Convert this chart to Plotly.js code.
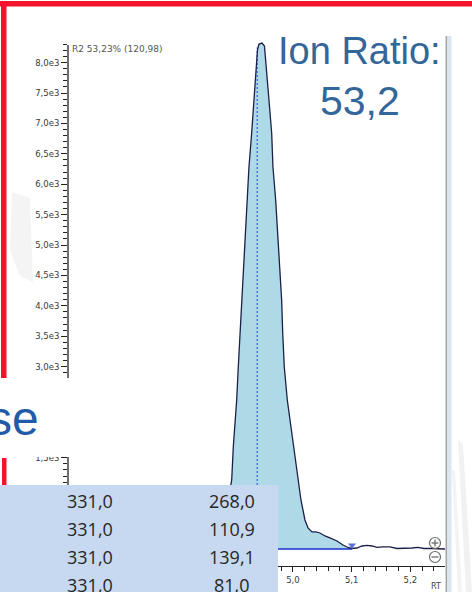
<!DOCTYPE html>
<html><head><meta charset="utf-8">
<script src="https://cdn.plot.ly/plotly-3.0.1.min.js"></script>
<style>html,body{margin:0;padding:0;background:#fff;overflow:hidden}#chart{width:472px;height:592px}</style>
</head><body><div id="chart"></div>
<script>
// ---- data ----
const rtTime = [4.8245,4.8671,4.8825,4.8956,4.8983,4.9029,4.9041,4.9068,4.9097,4.9126,4.9153,4.9182,4.9211,4.9250,4.9296,4.9336,4.9370,4.9395,4.9421,4.9472,4.9514,4.9540,4.9591,4.9637,4.9659,4.9705,4.9739,4.9767,4.9807,4.9825,4.9852,4.9903,4.9983,5.0068,5.0136,5.0204,5.0256,5.0324,5.0392,5.0460,5.0545,5.0630,5.0750,5.0852,5.0937,5.1005,5.1090,5.1175,5.1261,5.1346,5.1431,5.1533,5.1652,5.1772,5.1908,5.2027,5.2129,5.2232,5.2368,5.2590];
const intensity = [15,80,400,1135,1678,2237,2451,2993,3553,4095,4638,5197,5740,6283,6842,7385,7928,8207,8306,8322,8273,7928,7385,6842,6283,5740,5197,4638,4095,3553,2993,2451,1908,1349,806,477,345,280,280,263,214,181,132,66,25,8,16,49,58,49,25,33,33,8,8,16,25,8,8,0];
const peakApexRt = 4.939;
const peakApexTop = 8250;
const peakEndRt = 5.1005;
const peakEndMark = 60;
const yTickVals = [1500,3000,3500,4000,4500,5000,5500,6000,6500,7000,7500,8000];
const yTickText = ["1,5e3","3,0e3","3,5e3","4,0e3","4,5e3","5,0e3","5,5e3","6,0e3","6,5e3","7,0e3","7,5e3","8,0e3"];
const xTickVals = [5.0,5.1,5.2];
const xTickText = ["5,0","5,1","5,2"];
const peakLabel = "R2 53,23% (120,98)";
const ratioTitle = "Ion Ratio:";
const ratioValue = "53,2";
const slideWord = "se";
const tableMass = ["331,0","331,0","331,0","331,0"];
const tableArea = ["268,0","110,9","139,1","81,0"];
const xAxisName = "RT";

// ---- layout geometry (pixels) ----
const L=68, R=445, T=42, B=566, W=R-L, H=B-T;
const px = v => (v-L)/W;
const py = v => (B-v)/H;
const pathOf = pts => pts.map((p,i)=>(i?'L':'M')+px(p[0])+','+py(p[1])).join(' ')+' Z';

const fillX = [], fillY = [];
rtTime.forEach((t,i)=>{ if(t<=peakEndRt){ fillX.push(t); fillY.push(intensity[i]); } });

const traces = [
  {x:fillX, y:fillY, type:'scatter', mode:'lines', fill:'tozeroy', fillcolor:'#aed9e6', line:{width:0}, hoverinfo:'skip'},
  {x:[rtTime[0], peakEndRt], y:[0,0], type:'scatter', mode:'lines', line:{color:'#1a2fd0', width:1.3}},
  {x:[peakApexRt, peakApexRt], y:[0, peakApexTop], type:'scatter', mode:'lines', line:{color:'#2a44d0', width:1, dash:'2px,2px'}},
  {x:rtTime, y:intensity, type:'scatter', mode:'lines', line:{color:'#1c1f48', width:1.3}},
  {x:[peakEndRt], y:[peakEndMark], type:'scatter', mode:'markers', marker:{symbol:'triangle-down', size:7, color:'#5b6fe0'}}
];

const tickFont = {family:'DejaVu Sans', size:8.5, color:'#3a3a3a'};
const shapes = [
  // faint background smudges of the slide
  {type:'path', xref:'paper', yref:'paper', path:pathOf([[12,192],[30,198],[33,282],[20,276],[10,250]]), fillcolor:'#f4f4f4', line:{width:0}, layer:'below'},
  {type:'path', xref:'paper', yref:'paper', path:pathOf([[458,440],[463,445],[472,592],[466,592]]), fillcolor:'#f1f1f1', line:{width:0}, layer:'above'},
  {type:'path', xref:'paper', yref:'paper', path:pathOf([[452,470],[455,470],[462,592],[458,592]]), fillcolor:'#f3f3f3', line:{width:0}, layer:'above'},
  // y axis line
  {type:'line', xref:'paper', yref:'paper', x0:0, x1:0, y0:py(45), y1:py(566), line:{color:'#222', width:1.3}, layer:'above'},
  // white block behind big word
  {type:'rect', xref:'paper', yref:'paper', x0:px(-2), x1:px(226), y0:py(378), y1:py(457), fillcolor:'#ffffff', line:{width:0}, layer:'above'},
  // red frame
  {type:'rect', xref:'paper', yref:'paper', x0:px(0), x1:px(474), y0:py(1), y1:py(6.5), fillcolor:'#f3142c', line:{width:0}, layer:'above'},
  {type:'rect', xref:'paper', yref:'paper', x0:px(1), x1:px(6.5), y0:py(1), y1:py(378), fillcolor:'#f3142c', line:{width:0}, layer:'above'},
  {type:'rect', xref:'paper', yref:'paper', x0:px(2), x1:px(6.5), y0:py(458), y1:py(486), fillcolor:'#f3142c', line:{width:0}, layer:'above'},
  // table background
  {type:'rect', xref:'paper', yref:'paper', x0:px(-2), x1:px(278), y0:py(485), y1:py(594), fillcolor:'#c6d9f1', line:{width:0}, layer:'above'},
  // right border of chart window
  {type:'rect', xref:'paper', yref:'paper', x0:px(447), x1:px(451.5), y0:py(36), y1:py(594), fillcolor:'#dce6f2', line:{width:0}, layer:'above'},
  {type:'line', xref:'paper', yref:'paper', x0:px(446.3), x1:px(446.3), y0:py(36), y1:py(594), line:{color:'#a4a4a4', width:1.5}, layer:'above'},
  // zoom icons
  {type:'circle', xref:'paper', yref:'paper', x0:px(429.5), x1:px(440.5), y0:py(537.5), y1:py(548.5), line:{color:'#6a6a6a', width:1.2}, fillcolor:'rgba(255,255,255,0.6)', layer:'above'},
  {type:'line', xref:'paper', yref:'paper', x0:px(431.5), x1:px(438.5), y0:py(543), y1:py(543), line:{color:'#6a6a6a', width:1.3}, layer:'above'},
  {type:'line', xref:'paper', yref:'paper', x0:px(435), x1:px(435), y0:py(539.5), y1:py(546.5), line:{color:'#6a6a6a', width:1.3}, layer:'above'},
  {type:'circle', xref:'paper', yref:'paper', x0:px(429.5), x1:px(440.5), y0:py(551.5), y1:py(562.5), line:{color:'#6a6a6a', width:1.2}, fillcolor:'rgba(255,255,255,0.6)', layer:'above'},
  {type:'line', xref:'paper', yref:'paper', x0:px(431.5), x1:px(438.5), y0:py(557), y1:py(557), line:{color:'#6a6a6a', width:1.3}, layer:'above'}
];

const ann = (text, x, y, font, xa, ya) => ({text, xref:'paper', yref:'paper', x:px(x), y:py(y), showarrow:false, xanchor:xa||'center', yanchor:ya||'middle', font});
const tableFont = {family:'Open Sans', size:18, color:'#262626'};
const annotations = [
  ann(peakLabel, 70, 49, {family:'DejaVu Sans', size:9, color:'#555'}, 'left'),
  ann(ratioTitle, 359, 51, {family:'Liberation Sans', size:38, color:'#336699'}),
  ann(ratioValue, 360, 101, {family:'Liberation Sans', size:41, color:'#336699'}),
  ann(slideWord, 41, 418, {family:'Liberation Sans', size:48, color:'#1f5ba8'}, 'right'),
  ann(xAxisName, 436, 593, {family:'DejaVu Sans', size:8, color:'#444'}, 'center', 'bottom')
];
tableMass.forEach((m,i)=>{
  annotations.push(ann(m, 90, 501+28*i, tableFont));
  annotations.push(ann(tableArea[i], 232, 501+28*i, tableFont));
});

const layout = {
  width:472, height:592,
  margin:{l:L, r:472-R, t:T, b:592-B, pad:0},
  paper_bgcolor:'#ffffff', plot_bgcolor:'rgba(0,0,0,0)',
  showlegend:false,
  xaxis:{range:[4.6167,5.259], showgrid:false, zeroline:false, showline:true, linecolor:'#222', linewidth:1.4,
    tickmode:'array', tickvals:xTickVals, ticktext:xTickText, ticks:'outside', ticklen:5, tickcolor:'#222', tickwidth:1,
    minor:{tickmode:'linear', tick0:4.6, dtick:0.02, ticks:'outside', ticklen:4, tickcolor:'#222', tickwidth:1},
    tickfont:tickFont, fixedrange:true},
  yaxis:{range:[-280,8339], showgrid:false, zeroline:false, showline:false,
    tickmode:'array', tickvals:yTickVals, ticktext:yTickText, ticks:'outside', ticklen:6, tickcolor:'#222', tickwidth:1,
    minor:{tickmode:'linear', tick0:0, dtick:100, ticks:'outside', ticklen:4, tickcolor:'#222', tickwidth:1},
    tickfont:tickFont, fixedrange:true},
  shapes, annotations
};
Plotly.newPlot('chart', traces, layout, {staticPlot:true, displayModeBar:false});
</script></body></html>
